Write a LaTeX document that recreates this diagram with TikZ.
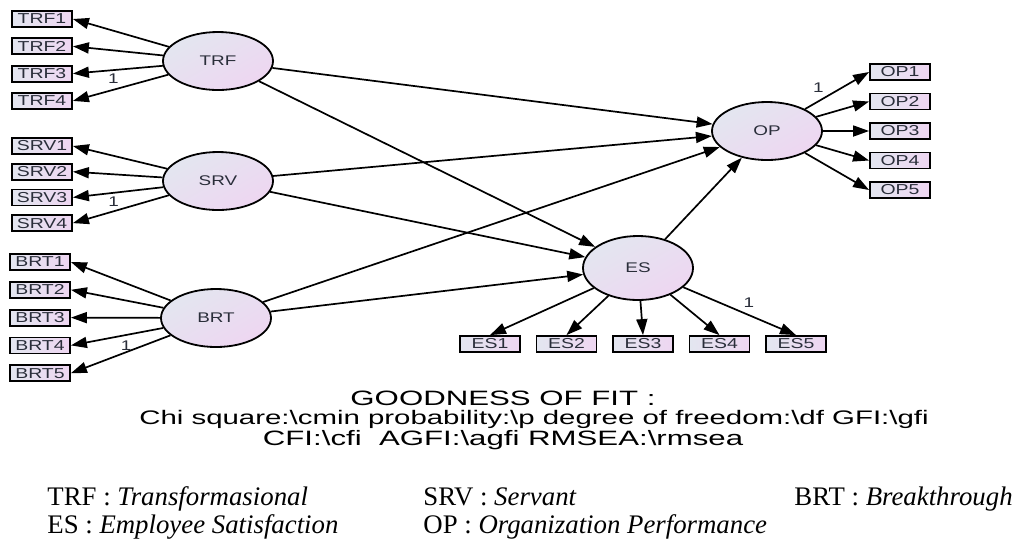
\documentclass[tikz,border=0pt]{standalone}
\usepackage{fontspec}
\setmainfont{Liberation Serif}
\newfontfamily\amosfont{Liberation Sans}[FakeStretch=1.35]
\newfontfamily\fitfont{Liberation Sans}[FakeStretch=1.5]
\usetikzlibrary{arrows.meta}
\usetikzlibrary{positioning}
\usetikzlibrary{shapes.geometric}
\definecolor{boxl}{HTML}{E3E6F0}
\definecolor{boxr}{HTML}{EED6F1}
\definecolor{txtc}{HTML}{2A2E3A}

\begin{document}
\begin{tikzpicture}[x=0.5pt,y=-0.5pt,node distance=13.65pt,
  lat/.style={draw,ellipse,line width=0.9pt,minimum width=55pt,minimum height=29pt,top color=boxl,bottom color=boxr,shading angle=30,text=txtc,font=\amosfont\fontsize{7}{8}\selectfont},
  ind/.style={draw,rectangle,line width=0.9pt,minimum width=30pt,minimum height=8pt,inner sep=0pt,left color=boxl,right color=boxr,text=txtc,font=\amosfont\fontsize{7.2}{8}\selectfont},
  path/.style={line width=0.85pt,-{Triangle[length=8pt,width=5.5pt]}},
  one/.style={inner sep=1.5pt,text=txtc,font=\amosfont\fontsize{7}{8}\selectfont},
  fit/.style={inner sep=0pt,font=\fitfont\fontsize{10.4}{12}\selectfont},
  leg/.style={inner sep=0pt,anchor=base west,font=\fontsize{13.4}{15}\selectfont}]
\fill[white](0,0) rectangle (1014,548);
% latent variables
\node[lat](TRF) at (218,61){TRF};
\node[lat](SRV) at (218,181){SRV};
\node[lat](BRT) at (216,318){BRT};
\node[lat](OP) at (767,131){OP};
\node[lat,minimum height=32pt](ES) at (638,268){ES};
% indicators
\node[ind](TRF1) at (42,19){TRF1};
\node[ind,below of=TRF1](TRF2){TRF2};
\node[ind,below of=TRF2](TRF3){TRF3};
\node[ind,below of=TRF3](TRF4){TRF4};
\node[ind](SRV1) at (42,146){SRV1};
\node[ind,below of=SRV1,node distance=12.85pt](SRV2){SRV2};
\node[ind,below of=SRV2,node distance=12.85pt](SRV3){SRV3};
\node[ind,below of=SRV3,node distance=12.85pt](SRV4){SRV4};
\node[ind](BRT1) at (40,262){BRT1};
\node[ind,below of=BRT1,node distance=13.9pt](BRT2){BRT2};
\node[ind,below of=BRT2,node distance=13.9pt](BRT3){BRT3};
\node[ind,below of=BRT3,node distance=13.9pt](BRT4){BRT4};
\node[ind,below of=BRT4,node distance=13.9pt](BRT5){BRT5};
\node[ind](OP1) at (900,72){OP1};
\node[ind,below of=OP1,node distance=14.75pt](OP2){OP2};
\node[ind,below of=OP2,node distance=14.75pt](OP3){OP3};
\node[ind,below of=OP3,node distance=14.75pt](OP4){OP4};
\node[ind,below of=OP4,node distance=14.75pt](OP5){OP5};
\node[ind](ES1) at (490,344){ES1};
\node[ind,right of=ES1,node distance=38.25pt](ES2){ES2};
\node[ind,right of=ES2,node distance=38.25pt](ES3){ES3};
\node[ind,right of=ES3,node distance=38.25pt](ES4){ES4};
\node[ind,right of=ES4,node distance=38.25pt](ES5){ES5};
% loadings
\foreach \i in {1,2,4} \draw[path](TRF)--(TRF\i.east);
\draw[path](TRF)--node[one,below,pos=.55]{1}(TRF3.east);
\foreach \i in {1,2,4} \draw[path](SRV)--(SRV\i.east);
\draw[path](SRV)--node[one,below,pos=.55]{1}(SRV3.east);
\foreach \i in {1,2,3,5} \draw[path](BRT)--(BRT\i.east);
\draw[path](BRT)--node[one,below right,pos=.5]{1}(BRT4.east);
\foreach \i in {2,...,5} \draw[path](OP)--(OP\i.west);
\draw[path](OP)--node[one,above left,pos=.35]{1}(OP1.west);
\foreach \i in {1,...,4} \draw[path](ES)--(ES\i.north);
\draw[path](ES)--node[one,above right,pos=.5]{1}(ES5.north);
% structural paths
\draw[path](TRF)--(OP);
\draw[path](TRF)--(ES);
\draw[path](SRV)--(OP);
\draw[path](SRV)--(ES);
\draw[path](BRT)--(OP);
\draw[path](BRT)--(ES);
\draw[path](ES)--(OP);
% fit
\node[fit](gof) at (503,398){GOODNESS OF FIT :};
\node[fit,font=\fitfont\fontsize{9.8}{12}\selectfont](chi) at (534,419){Chi square:\textbackslash cmin probability:\textbackslash p degree of freedom:\textbackslash df GFI:\textbackslash gfi};
\node[fit](cfi) at (503,440){CFI:\textbackslash cfi~ AGFI:\textbackslash agfi RMSEA:\textbackslash rmsea};
% legend
\node[leg](lTRF) at (47,505){TRF : \textit{Transformasional}};
\node[leg](lSRV) at (423,505){SRV : \textit{Servant}};
\node[leg](lBRT) at (794,505){BRT : \textit{Breakthrough}};
\node[leg](lES) at (47,533){ES : \textit{Employee Satisfaction}};
\node[leg](lOP) at (423,533){OP : \textit{Organization Performance}};
\end{tikzpicture}
\end{document}
